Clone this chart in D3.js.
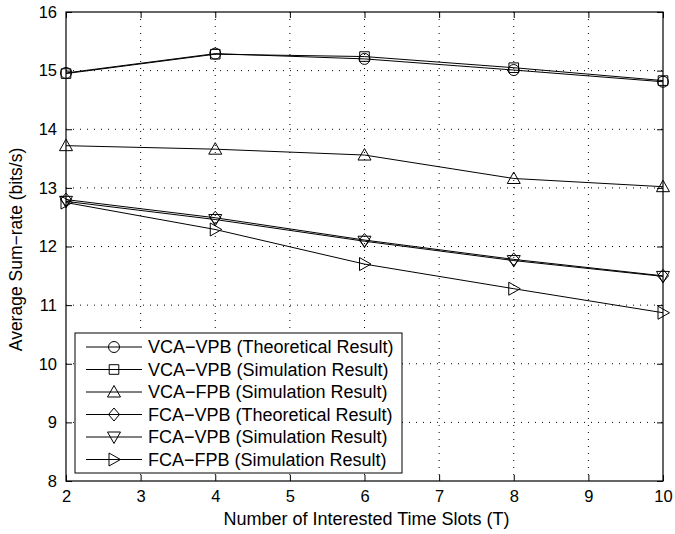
<!DOCTYPE html>
<html>
<head>
<meta charset="utf-8">
<script src="https://cdn.jsdelivr.net/npm/d3@7"></script>
<style>
  body { margin: 0; background: #fff; }
  svg { display: block; font-family: "Liberation Sans", Arial, sans-serif; }
</style>
</head>
<body>
<div id="chart"></div>
<script>
// datos
const slots = [2, 4, 6, 8, 10];
const xTicks = [2, 3, 4, 5, 6, 7, 8, 9, 10];
const yTicks = [8, 9, 10, 11, 12, 13, 14, 15, 16];

const vcaVpbTheo = [14.96, 15.29, 15.20, 15.01, 14.81];
const vcaVpbSim  = [14.95, 15.28, 15.24, 15.05, 14.83];
const vcaFpbSim  = [13.72, 13.66, 13.56, 13.16, 13.02];
const fcaVpbTheo = [12.80, 12.49, 12.11, 11.78, 11.50];
const fcaVpbSim  = [12.77, 12.46, 12.09, 11.76, 11.49];
const fcaFpbSim  = [12.75, 12.29, 11.70, 11.28, 10.87];

const seriesNames = [
  "VCA\u2212VPB (Theoretical Result)",
  "VCA\u2212VPB (Simulation Result)",
  "VCA\u2212FPB (Simulation Result)",
  "FCA\u2212VPB (Theoretical Result)",
  "FCA\u2212VPB (Simulation Result)",
  "FCA\u2212FPB (Simulation Result)"
];
const seriesMarkers = ["circle", "square", "triUp", "diamond", "triDown", "triRight"];
const seriesValues = [vcaVpbTheo, vcaVpbSim, vcaFpbSim, fcaVpbTheo, fcaVpbSim, fcaFpbSim];

const width = 675, height = 534;
const margin = { top: 12, right: 12, bottom: 53, left: 66 };
const w = width - margin.left - margin.right;
const h = height - margin.top - margin.bottom;

const svg = d3.select("#chart").append("svg")
  .attr("width", width).attr("height", height);
const g = svg.append("g").attr("transform", `translate(${margin.left},${margin.top})`);

const x = d3.scaleLinear().domain([2, 10]).range([0, w]);
const y = d3.scaleLinear().domain([8, 16]).range([h, 0]);

// rejilla punteada
g.append("g").selectAll("line").data(xTicks.slice(1, -1)).enter().append("line")
  .attr("x1", d => x(d)).attr("x2", d => x(d)).attr("y1", 0).attr("y2", h)
  .attr("stroke", "#000").attr("stroke-width", 1).attr("stroke-dasharray", "1,6");
g.append("g").selectAll("line").data(yTicks.slice(1, -1)).enter().append("line")
  .attr("x1", 0).attr("x2", w).attr("y1", d => y(d)).attr("y2", d => y(d))
  .attr("stroke", "#000").attr("stroke-width", 1).attr("stroke-dasharray", "1,6");

// ejes (ticks hacia dentro, en los cuatro lados)
const tick = 6;
const axB = g.append("g").attr("transform", `translate(0,${h})`)
  .call(d3.axisBottom(x).tickValues(xTicks).tickSize(-tick).tickPadding(9));
const axT = g.append("g")
  .call(d3.axisTop(x).tickValues(xTicks).tickSize(-tick).tickFormat(""));
const axL = g.append("g")
  .call(d3.axisLeft(y).tickValues(yTicks).tickSize(-tick).tickPadding(9));
const axR = g.append("g").attr("transform", `translate(${w},0)`)
  .call(d3.axisRight(y).tickValues(yTicks).tickSize(-tick).tickFormat(""));
[axB, axT, axL, axR].forEach(a => {
  a.select(".domain").remove();
  a.selectAll("line").attr("stroke", "#000");
  a.selectAll("text").style("font-size", "16.5px").style("fill", "#000")
    .style("font-family", "'Liberation Sans', Arial, sans-serif");
});

g.append("rect").attr("width", w).attr("height", h)
  .attr("fill", "none").attr("stroke", "#000").attr("stroke-width", 1.2);

// etiquetas de ejes
svg.append("text").attr("text-anchor", "middle")
  .attr("x", margin.left + w / 2 + 2).attr("y", 525)
  .style("font-size", "18px").text("Number of Interested Time Slots (T)");
svg.append("text").attr("text-anchor", "middle")
  .attr("transform", `translate(22,${margin.top + h / 2 + 3}) rotate(-90)`)
  .style("font-size", "17.5px").text("Average Sum\u2212rate (bits/s)");

// marcadores
function drawMarker(sel, type) {
  const s = 5.5;
  let path;
  if (type === "circle") {
    return sel.append("circle").attr("r", 5.5).attr("fill", "none").attr("stroke", "#000").attr("stroke-width", 1);
  } else if (type === "square") {
    path = `M${-4.8},${-4.8}H4.8V4.8H-4.8Z`;
  } else if (type === "triUp") {
    path = `M0,${-s - 1}L${s + 1},${s - 0.5}L${-s - 1},${s - 0.5}Z`;
  } else if (type === "triDown") {
    path = `M0,${s + 1}L${s + 1},${-s + 0.5}L${-s - 1},${-s + 0.5}Z`;
  } else if (type === "triRight") {
    path = `M${s + 1},0L${-s + 0.5},${s + 1}L${-s + 0.5},${-s - 1}Z`;
  } else if (type === "diamond") {
    path = `M0,${-s - 1}L${s},0L0,${s + 1}L${-s},0Z`;
  }
  return sel.append("path").attr("d", path).attr("fill", "none").attr("stroke", "#000").attr("stroke-width", 1);
}

const line = d3.line().x((d, i) => x(slots[i])).y(d => y(d));
seriesValues.forEach((vals, k) => {
  g.append("path").datum(vals).attr("d", line)
    .attr("fill", "none").attr("stroke", "#000").attr("stroke-width", 1);
  vals.forEach((v, i) => {
    const m = g.append("g").attr("transform", `translate(${x(slots[i])},${y(v)})`);
    drawMarker(m, seriesMarkers[k]);
  });
});

// leyenda
const legend = svg.append("g").attr("transform", "translate(75,333)");
legend.append("rect").attr("width", 327).attr("height", 140)
  .attr("fill", "#fff").attr("stroke", "#000").attr("stroke-width", 1);
const rows = legend.selectAll("g.row").data(seriesNames).enter().append("g")
  .attr("class", "row").attr("transform", (d, i) => `translate(0,${14 + i * 22.5})`);
rows.append("line").attr("x1", 11).attr("x2", 67).attr("y1", 0).attr("y2", 0)
  .attr("stroke", "#000").attr("stroke-width", 1);
rows.each(function (d, i) {
  const m = d3.select(this).append("g").attr("transform", "translate(39,0)");
  drawMarker(m, seriesMarkers[i]);
});
rows.append("text").attr("x", 73).attr("y", 0).attr("dy", "0.36em")
  .style("font-size", "18px").text(d => d);
</script>
</body>
</html>
